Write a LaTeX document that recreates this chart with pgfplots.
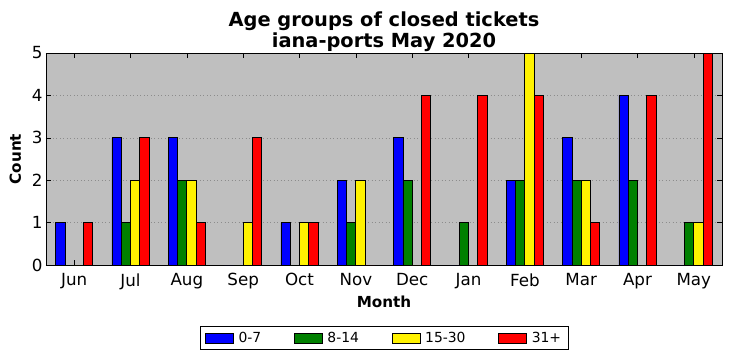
\documentclass[border=0pt]{standalone}
\usepackage{pgfplots}
\pgfplotsset{compat=1.18}
\usepackage{fontspec}
\setmainfont{DejaVu Sans}
\definecolor{bgsilver}{HTML}{BFBFBF}
\definecolor{mgreen}{HTML}{008000}
\begin{document}
\begin{tikzpicture}
\begin{axis}[
  width=676bp, height=212bp, scale only axis,
  xmin=-0.5, xmax=11.5, ymin=0, ymax=5,
  enlargelimits=false,
  ybar=0pt, bar width=0.165,
  xtick={0,...,11},
  xticklabels={Jun,Jul,Aug,Sep,Oct,Nov,Dec,Jan,Feb,Mar,Apr,May},
  ytick={0,...,5},
  ymajorgrids, grid style={dash pattern=on 1bp off 2.5bp, black!45, line width=0.6pt},
  axis background/.style={fill=bgsilver},
  axis line style={black, line width=0.9pt},
  tick align=inside, tick pos=both,
  major tick length=5bp,
  tick style={black, line width=0.6pt},
  ticklabel style={font=\fontsize{16.7bp}{19bp}\selectfont},
  xticklabel style={yshift=-5bp},
  /pgf/number format/assume math mode=true,
  title={Age groups of closed tickets\\iana-ports May 2020},
  title style={font=\bfseries\fontsize{19.4bp}{21bp}\selectfont, align=center, yshift=-8bp},
  xlabel={Month}, ylabel={Count},
  xlabel style={font=\bfseries\fontsize{15.2bp}{17bp}\selectfont, yshift=0bp},
  ylabel style={font=\bfseries\fontsize{15.2bp}{17bp}\selectfont, yshift=4bp},
  every axis plot/.append style={draw=black, line width=0.7pt},
  legend columns=4,
  legend image code/.code={\draw[#1] (0bp,-5bp) rectangle (28bp,5bp);},
  legend style={at={(0.5,-0.288)}, anchor=north, draw=black, line width=0.8pt,
    font=\fontsize{13.9bp}{16bp}\selectfont, inner xsep=5bp, inner ysep=3.5bp,
    /tikz/every odd column/.append style={column sep=3bp},
    /tikz/every even column/.append style={column sep=30.5bp}},
]
\addplot[fill=blue] coordinates {(0,1) (1,3) (2,3) (3,0) (4,1) (5,2) (6,3) (7,0) (8,2) (9,3) (10,4) (11,0)};
\addplot[fill=mgreen] coordinates {(0,0) (1,1) (2,2) (3,0) (4,0) (5,1) (6,2) (7,1) (8,2) (9,2) (10,2) (11,1)};
\addplot[fill=yellow] coordinates {(0,0) (1,2) (2,2) (3,1) (4,1) (5,2) (6,0) (7,0) (8,5) (9,2) (10,0) (11,1)};
\addplot[fill=red] coordinates {(0,1) (1,3) (2,1) (3,3) (4,1) (5,0) (6,4) (7,4) (8,4) (9,1) (10,4) (11,5)};
\legend{0-7,8-14,15-30,31+}
\end{axis}
\path (current axis.south west) ++(-46bp,-96bp) rectangle ([shift={(10bp,53bp)}]current axis.north east);
\end{tikzpicture}
\end{document}
